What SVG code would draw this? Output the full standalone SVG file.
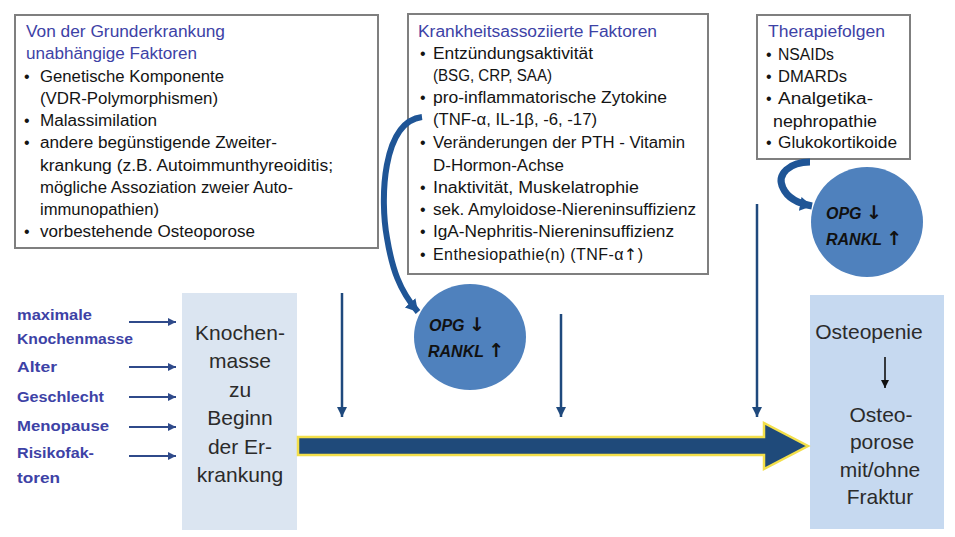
<svg xmlns="http://www.w3.org/2000/svg" width="955" height="537" viewBox="0 0 955 537">
<defs>
<style>
.box{fill:#fff;stroke:#7f7f7f;stroke-width:2}
.t{font-family:"Liberation Sans",Arial,sans-serif;font-size:16px;fill:#141414}
.ttl{font-family:"Liberation Sans",Arial,sans-serif;font-size:16px;fill:#3d42a6}
.lbl{font-family:"Liberation Sans",Arial,sans-serif;font-size:14px;font-weight:bold;fill:#3d42a6}
.big{font-family:"Liberation Sans",Arial,sans-serif;font-size:21px;fill:#2b2b2b;text-anchor:middle}
.opg{font-family:"Liberation Sans","DejaVu Sans",sans-serif;font-size:16px;font-weight:bold;font-style:italic;fill:#111}
.arr{font-family:"DejaVu Sans",sans-serif;font-style:normal;font-weight:normal}
.arrb{font-family:"DejaVu Sans",sans-serif;font-style:normal;font-weight:bold;font-size:19px}
.circ{fill:#4f81bd}
.vline{stroke:#1f497d;stroke-width:2.5;fill:none}
.sline{stroke:#2f4a8a;stroke-width:2;fill:none}
.curve{stroke:#1f5596;fill:none;stroke-linecap:butt}
</style>
<marker id="ah" markerUnits="userSpaceOnUse" markerWidth="12" markerHeight="12" refX="10" refY="6" orient="auto">
<path d="M0,1 L10,6 L0,11 Z" fill="#1f497d"/>
</marker>
<marker id="ahs" markerUnits="userSpaceOnUse" markerWidth="10" markerHeight="10" refX="8" refY="5" orient="auto">
<path d="M0,1 L8,5 L0,9 Z" fill="#2f4a8a"/>
</marker>
<marker id="ahk" markerUnits="userSpaceOnUse" markerWidth="10" markerHeight="10" refX="8" refY="5" orient="auto">
<path d="M0,1 L8,5 L0,9 Z" fill="#111"/>
</marker>
<marker id="ahc" markerUnits="userSpaceOnUse" markerWidth="16" markerHeight="16" refX="12" refY="8" orient="auto">
<path d="M0,1 L12,8 L0,15 Z" fill="#1f5596"/>
</marker>
</defs>

<g id="box-unabhaengig">
<rect class="box" x="15" y="15" width="363" height="233"/>
<text class="ttl" x="26" y="37" textLength="199" lengthAdjust="spacingAndGlyphs">Von der Grunderkrankung</text>
<text class="ttl" x="26" y="59" textLength="171" lengthAdjust="spacingAndGlyphs">unabhängige Faktoren</text>
<text class="t" x="24" y="82">•</text><text class="t" x="40" y="82" textLength="184" lengthAdjust="spacingAndGlyphs">Genetische Komponente</text>
<text class="t" x="40" y="104" textLength="178" lengthAdjust="spacingAndGlyphs">(VDR-Polymorphismen)</text>
<text class="t" x="24" y="126">•</text><text class="t" x="40" y="126" textLength="117" lengthAdjust="spacingAndGlyphs">Malassimilation</text>
<text class="t" x="24" y="148">•</text><text class="t" x="40" y="148" textLength="237" lengthAdjust="spacingAndGlyphs">andere begünstigende Zweiter-</text>
<text class="t" x="40" y="171" textLength="293" lengthAdjust="spacingAndGlyphs">krankung (z.B. Autoimmunthyreoiditis;</text>
<text class="t" x="40" y="193" textLength="253" lengthAdjust="spacingAndGlyphs">mögliche Assoziation zweier Auto-</text>
<text class="t" x="40" y="215" textLength="119" lengthAdjust="spacingAndGlyphs">immunopathien)</text>
<text class="t" x="24" y="237">•</text><text class="t" x="40" y="237" textLength="215" lengthAdjust="spacingAndGlyphs">vorbestehende Osteoporose</text>
</g>

<g id="box-krankheit">
<rect class="box" x="408" y="14" width="300" height="260"/>
<text class="ttl" x="418" y="37" textLength="239" lengthAdjust="spacingAndGlyphs">Krankheitsassoziierte Faktoren</text>
<text class="t" x="420" y="59">•</text><text class="t" x="433" y="59" textLength="160" lengthAdjust="spacingAndGlyphs">Entzündungsaktivität</text>
<text class="t" x="433" y="81" textLength="119" lengthAdjust="spacingAndGlyphs">(BSG, CRP, SAA)</text>
<text class="t" x="420" y="103">•</text><text class="t" x="433" y="103" textLength="234" lengthAdjust="spacingAndGlyphs">pro-inflammatorische Zytokine</text>
<text class="t" x="433" y="125" textLength="164" lengthAdjust="spacingAndGlyphs">(TNF-α, IL-1β, -6, -17)</text>
<text class="t" x="420" y="148">•</text><text class="t" x="433" y="148" textLength="252" lengthAdjust="spacingAndGlyphs">Veränderungen der PTH - Vitamin</text>
<text class="t" x="433" y="171" textLength="131" lengthAdjust="spacingAndGlyphs">D-Hormon-Achse</text>
<text class="t" x="420" y="193">•</text><text class="t" x="433" y="193" textLength="206" lengthAdjust="spacingAndGlyphs">Inaktivität, Muskelatrophie</text>
<text class="t" x="420" y="215">•</text><text class="t" x="433" y="215" textLength="263" lengthAdjust="spacingAndGlyphs">sek. Amyloidose-Niereninsuffizienz</text>
<text class="t" x="420" y="237">•</text><text class="t" x="433" y="237" textLength="241" lengthAdjust="spacingAndGlyphs">IgA-Nephritis-Niereninsuffizienz</text>
<text class="t" x="420" y="260">•</text><text class="t" x="433" y="260" textLength="210" lengthAdjust="spacing">Enthesiopathie(n) (TNF-α<tspan class="arr">↑</tspan>)</text>
</g>

<g id="box-therapie">
<rect class="box" x="757" y="15" width="153" height="144"/>
<text class="ttl" x="768" y="37" textLength="117" lengthAdjust="spacingAndGlyphs">Therapiefolgen</text>
<text class="t" x="766" y="60">•</text><text class="t" x="778" y="60" textLength="56" lengthAdjust="spacingAndGlyphs">NSAIDs</text>
<text class="t" x="766" y="82">•</text><text class="t" x="778" y="82" textLength="69" lengthAdjust="spacingAndGlyphs">DMARDs</text>
<text class="t" x="766" y="104">•</text><text class="t" x="778" y="104" textLength="95" lengthAdjust="spacingAndGlyphs">Analgetika-</text>
<text class="t" x="773" y="127" textLength="104" lengthAdjust="spacingAndGlyphs">nephropathie</text>
<text class="t" x="766" y="148">•</text><text class="t" x="778" y="148" textLength="119" lengthAdjust="spacingAndGlyphs">Glukokortikoide</text>
</g>

<g id="circle-mid">
<ellipse class="circ" cx="470" cy="337" rx="56" ry="53"/>
<text class="opg" x="429" y="331">OPG <tspan class="arrb">↓</tspan></text>
<text class="opg" x="428" y="357">RANKL <tspan class="arrb">↑</tspan></text>
</g>

<g id="circle-right">
<ellipse class="circ" cx="867" cy="222" rx="56" ry="55"/>
<text class="opg" x="826" y="219">OPG <tspan class="arrb">↓</tspan></text>
<text class="opg" x="826" y="245">RANKL <tspan class="arrb">↑</tspan></text>
</g>

<g id="labels-left">
<text class="lbl" x="17" y="320" textLength="75" lengthAdjust="spacingAndGlyphs">maximale</text>
<text class="lbl" x="17" y="344" textLength="116" lengthAdjust="spacingAndGlyphs">Knochenmasse</text>
<text class="lbl" x="17" y="372" textLength="40" lengthAdjust="spacingAndGlyphs">Alter</text>
<text class="lbl" x="17" y="402" textLength="87" lengthAdjust="spacingAndGlyphs">Geschlecht</text>
<text class="lbl" x="17" y="431" textLength="92" lengthAdjust="spacingAndGlyphs">Menopause</text>
<text class="lbl" x="17" y="458" textLength="77" lengthAdjust="spacingAndGlyphs">Risikofak-</text>
<text class="lbl" x="17" y="483" textLength="43" lengthAdjust="spacingAndGlyphs">toren</text>
</g>

<g id="box-knochenmasse">
<rect x="182" y="293" width="115" height="237" fill="#dbe5f1"/>
<text class="big" x="240" y="340">Knochen-</text>
<text class="big" x="240" y="368">masse</text>
<text class="big" x="240" y="397">zu</text>
<text class="big" x="240" y="425">Beginn</text>
<text class="big" x="240" y="454">der Er-</text>
<text class="big" x="240" y="482">krankung</text>
</g>

<g id="box-osteoporose">
<rect x="810" y="295" width="134" height="234" fill="#c6d9f0"/>
<text class="big" x="869" y="339">Osteopenie</text>
<text class="big" x="881" y="422">Osteo-</text>
<text class="big" x="882" y="449">porose</text>
<text class="big" x="880" y="477">mit/ohne</text>
<text class="big" x="880" y="504">Fraktur</text>
</g>

<g id="connectors">
<path id="big-arrow" d="M298,437 L764,437 L764,423 L808,446 L764,469 L764,455 L298,455 Z" fill="#1f4a7a" stroke="#f3df4a" stroke-width="2.5" stroke-linejoin="miter"/>
<line class="vline" x1="342" y1="293" x2="342" y2="417" marker-end="url(#ah)"/>
<line class="vline" x1="561" y1="314" x2="561" y2="417" marker-end="url(#ah)"/>
<line class="vline" x1="757" y1="204" x2="757" y2="417" marker-end="url(#ah)"/>
<line class="sline" x1="129" y1="322" x2="176" y2="322" stroke-width="3" marker-end="url(#ahs)"/>
<line class="sline" x1="129" y1="367" x2="176" y2="367" marker-end="url(#ahs)"/>
<line class="sline" x1="129" y1="397" x2="176" y2="397" marker-end="url(#ahs)"/>
<line class="sline" x1="129" y1="427" x2="176" y2="427" marker-end="url(#ahs)"/>
<line class="sline" x1="129" y1="456" x2="176" y2="456" marker-end="url(#ahs)"/>
<path class="curve" d="M422,117 C382,122 380,200 387,238 C392,268 399,290 418,312" stroke-width="6" marker-end="url(#ahc)"/>
<path class="curve" d="M810,162 C790,162 776,174 783,188 C787,197 796,203 812,206" stroke-width="7" marker-end="url(#ahc)"/>
<line x1="885" y1="357" x2="885" y2="388" stroke="#111" stroke-width="1.6" marker-end="url(#ahk)"/>
</g>
</svg>
